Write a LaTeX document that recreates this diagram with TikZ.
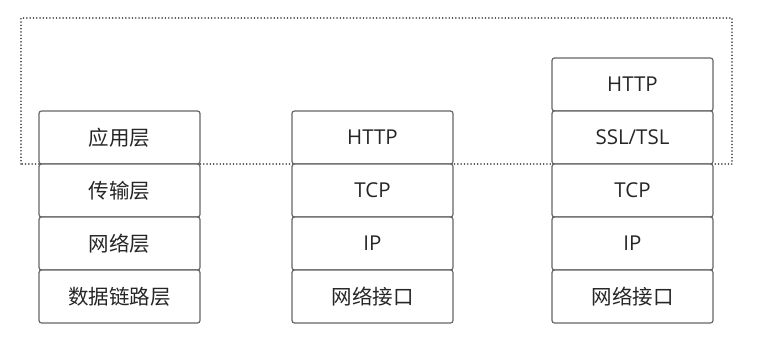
\documentclass[tikz,border=0pt]{standalone}
\usepackage{fontspec}
\setmainfont{Open Sans}
\newfontfamily\cjk{Noto Sans CJK SC}
\usetikzlibrary{positioning}

\begin{document}
\begin{tikzpicture}[x=1pt,y=1pt,line cap=round,line join=round,
  layer/.style={draw=black!60,line width=1.2pt,fill=white,rounded corners=2.5pt,
    minimum width=161pt,minimum height=53pt,inner sep=0pt,outer sep=0pt,
    font=\fontsize{20.5}{24}\selectfont,text=black!85},
  stack/.style={layer,below=0pt of #1}]
\path[use as bounding box] (0,0) rectangle (773,341);
% dotted frame round the application layer
\draw[black!70,line width=1.6pt,dash pattern=on 0.1pt off 3.2pt] (21,177) rectangle (732,323);
% OSI-like layers
\node[layer] (app) at (119.5,203.5) {\cjk 应用层};
\node[stack=app] (transport) {\cjk 传输层};
\node[stack=transport] (network) {\cjk 网络层};
\node[stack=network] (link) {\cjk 数据链路层};
% TCP/IP
\node[layer] (http) at (372.5,203.5) {HTTP};
\node[stack=http] (tcp) {TCP};
\node[stack=tcp] (ip) {IP};
\node[stack=ip] (netif) {\cjk 网络接口};
% HTTPS
\node[layer] (shttp) at (632.5,256.5) {HTTP};
\node[stack=shttp] (ssl) {SSL/TSL};
\node[stack=ssl] (stcp) {TCP};
\node[stack=stcp] (sip) {IP};
\node[stack=sip] (snetif) {\cjk 网络接口};
\end{tikzpicture}
\end{document}
